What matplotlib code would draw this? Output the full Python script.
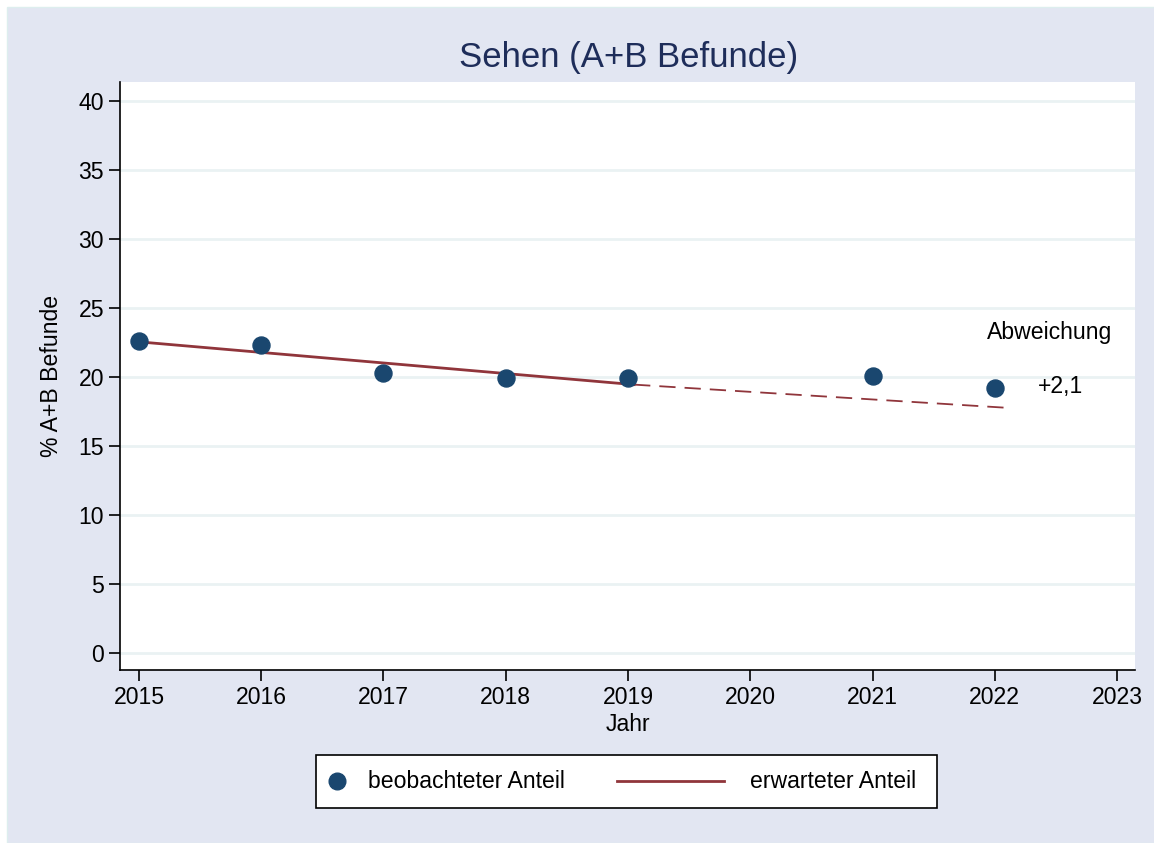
import matplotlib.pyplot as plt
from matplotlib.patches import Rectangle
from matplotlib.lines import Line2D

plt.rcParams['font.family'] = ['Liberation Sans', 'DejaVu Sans']

years = [2015, 2016, 2017, 2018, 2019, 2021, 2022]
observed = [22.6, 22.3, 20.3, 19.9, 19.9, 20.1, 19.2]

fit_years = [2015, 2019.05]
fit_values = [22.55, 19.45]
proj_years = [2019.05, 2022.1]
proj_values = [19.45, 17.77]

xticks = [2015, 2016, 2017, 2018, 2019, 2020, 2021, 2022, 2023]
yticks = [0, 5, 10, 15, 20, 25, 30, 35, 40]
labels = ['beobachteter Anteil', 'erwarteter Anteil']

navy = '#1A476F'
maroon = '#90353B'
bg = '#E2E6F2'
grid = '#EAF2F3'
fs = 16.6

W, H = 1154, 843
fig = plt.figure(figsize=(W / 100, H / 100), dpi=100, facecolor='white')
fig.patches.append(Rectangle((7 / W, 0), 1, 1 - 7 / H, transform=fig.transFigure,
                             facecolor=bg, edgecolor='#DDEEEE', lw=1, zorder=-5))

ax = fig.add_axes([120 / W, 1 - 670 / H, 1015 / W, 588 / H])
ax.set_facecolor('white')

ax.scatter(years, observed, s=150, color=navy, zorder=3)
ax.plot(fit_years, fit_values, color=maroon, lw=2, zorder=2)
ax.plot(proj_years, proj_values, color=maroon, lw=1.3, dashes=(9, 5), zorder=2)

ax.text(2021.94, 23.2, 'Abweichung', fontsize=fs, va='center', ha='left')
ax.text(2022.35, 19.3, '+2,1', fontsize=fs, va='center', ha='left')

ax.set_xlim(2014.845, 2023.147)
ax.set_ylim(-1.23, 41.38)
ax.set_xticks(xticks)
ax.set_yticks(yticks)
ax.tick_params(labelsize=fs, length=8, width=1.2, direction='out', color='black')
ax.yaxis.grid(True, color=grid, lw=2)
ax.set_axisbelow(True)
for s in ['top', 'right']:
    ax.spines[s].set_visible(False)
for s in ['left', 'bottom']:
    ax.spines[s].set_linewidth(1.2)

ax.set_xlabel('Jahr', fontsize=fs, labelpad=3)
ax.set_ylabel('% A+B Befunde', fontsize=fs, labelpad=11)
fig.text(629 / W, 1 - 57 / H, 'Sehen (A+B Befunde)', fontsize=25, color='#1E2D5A',
         ha='center', va='center')

# legend drawn by hand, Stata style
fig.patches.append(Rectangle((316 / W, 1 - 808 / H), 621 / W, 53 / H, transform=fig.transFigure,
                             facecolor='white', edgecolor='black', lw=1.2))
ly = 1 - 781 / H
fig.lines.append(Line2D([337 / W], [ly], transform=fig.transFigure, marker='o', ls='none',
                        color=navy, markersize=12))
fig.lines.append(Line2D([617 / W, 724 / W], [ly, ly], transform=fig.transFigure,
                        color=maroon, lw=2))
fig.text(368 / W, ly, labels[0], fontsize=fs, va='center', ha='left')
fig.text(750 / W, ly, labels[1], fontsize=fs, va='center', ha='left')

fig.savefig('out.png', dpi=100, facecolor=fig.get_facecolor())
